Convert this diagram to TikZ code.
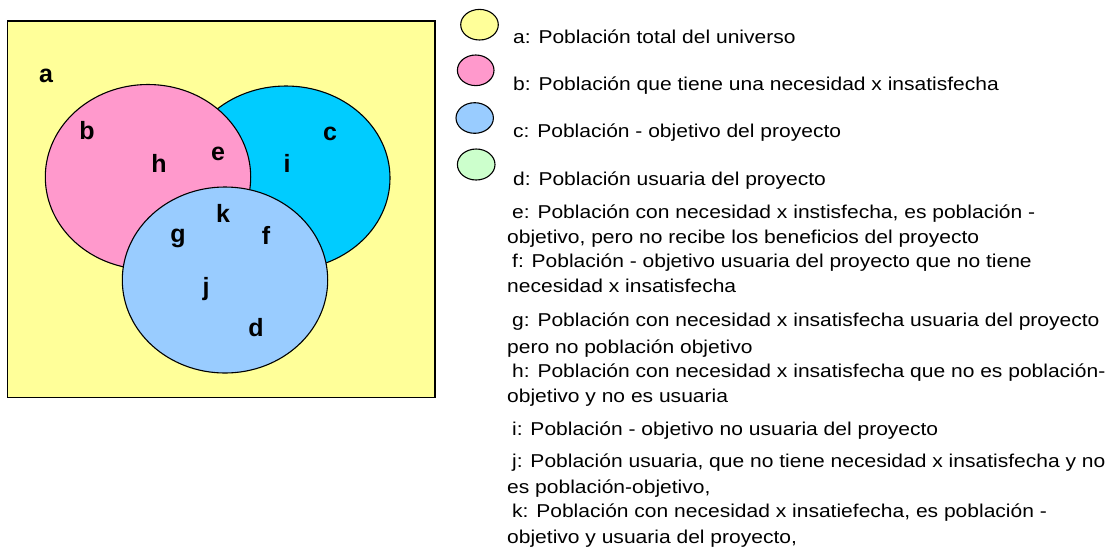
\documentclass[tikz,border=0pt]{standalone}
\usepackage{fontspec}
\setmainfont{Liberation Sans}
\newfontfamily\legfont[FakeStretch=1.13]{Liberation Sans}
\definecolor{univ}{HTML}{FFFF99}
\definecolor{pinkb}{HTML}{FF99CC}
\definecolor{cyanc}{HTML}{00CCFF}
\definecolor{blued}{HTML}{99CCFF}
\definecolor{greenl}{HTML}{CCFFCC}
\tikzset{
  setshape/.style={draw=black, line width=1.1pt},
  setlabel/.style={font=\fontsize{25}{28}\selectfont\bfseries, anchor=base, inner sep=0pt},
  legdot/.style={draw=black, line width=1.1pt},
  legtext/.style={font=\legfont\fontsize{18.6}{20}\selectfont, anchor=base west, inner sep=0pt},
}
\begin{document}
\begin{tikzpicture}[x=1pt,y=-1pt]
\useasboundingbox (0,0) rectangle (1118,558);
% universe
\draw[draw=black, line width=1.6pt, fill=univ] (7.5,21) rectangle (435,397.5);
% sets
\draw[setshape, fill=cyanc] (286,178) ellipse [x radius=104pt, y radius=92pt];
\draw[setshape, fill=pinkb] (148,177) ellipse [x radius=102.7pt, y radius=92.5pt];
\draw[setshape, fill=blued] (225,280) ellipse [x radius=102.7pt, y radius=93pt];
% set labels
\node[setlabel] (la) at (46,82.3) {a};
\node[setlabel] (lb) at (87,139.3) {b};
\node[setlabel] (lh) at (159,172.7) {h};
\node[setlabel] (le) at (218,160) {e};
\node[setlabel] (li) at (287,172.7) {i};
\node[setlabel] (lc) at (330,140) {c};
\node[setlabel] (lk) at (223,222.7) {k};
\node[setlabel] (lg) at (178,242.7) {g};
\node[setlabel] (lf) at (266,244) {f};
\node[setlabel] (lj) at (206,295) {j};
\node[setlabel] (ld) at (256,336.7) {d};
% legend symbols
\draw[legdot, fill=univ] (479.5,24.7) ellipse [x radius=18.8pt, y radius=15.3pt];
\draw[legdot, fill=pinkb] (475.7,70.3) ellipse [x radius=18.3pt, y radius=15.3pt];
\draw[legdot, fill=blued] (474.7,118) ellipse [x radius=18.7pt, y radius=15.3pt];
\draw[legdot, fill=greenl] (476.2,164.5) ellipse [x radius=18.8pt, y radius=15.5pt];
% legend texts
\node[legtext] (ta) at (513,43) {a: Población total del universo};
\node[legtext] (tb) at (513,90) {b: Población que tiene una necesidad x insatisfecha};
\node[legtext] (tc) at (513,137) {c: Población - objetivo del proyecto};
\node[legtext] (td) at (513,185) {d: Población usuaria del proyecto};
\node[legtext] (te1) at (512,218) {e: Población con necesidad x instisfecha, es población -};
\node[legtext] (te2) at (507,243) {objetivo, pero no recibe los beneficios del proyecto};
\node[legtext] (tf1) at (512,267) {f: Población - objetivo usuaria del proyecto que no tiene};
\node[legtext] (tf2) at (507,292) {necesidad x insatisfecha};
\node[legtext] (tg1) at (512,326) {g: Población con necesidad x insatisfecha usuaria del proyecto};
\node[legtext] (tg2) at (507,353) {pero no población objetivo};
\node[legtext] (th1) at (512,377) {h: Población con necesidad x insatisfecha que no es población-};
\node[legtext] (th2) at (507,402) {objetivo y no es usuaria};
\node[legtext] (ti) at (512,435) {i: Población - objetivo no usuaria del proyecto};
\node[legtext] (tj1) at (512,467) {j: Población usuaria, que no tiene necesidad x insatisfecha y no};
\node[legtext] (tj2) at (507,493) {es población-objetivo,};
\node[legtext] (tk1) at (512,517) {k: Población con necesidad x insatiefecha, es población -};
\node[legtext] (tk2) at (507,543) {objetivo y usuaria del proyecto,};
\end{tikzpicture}
\end{document}
